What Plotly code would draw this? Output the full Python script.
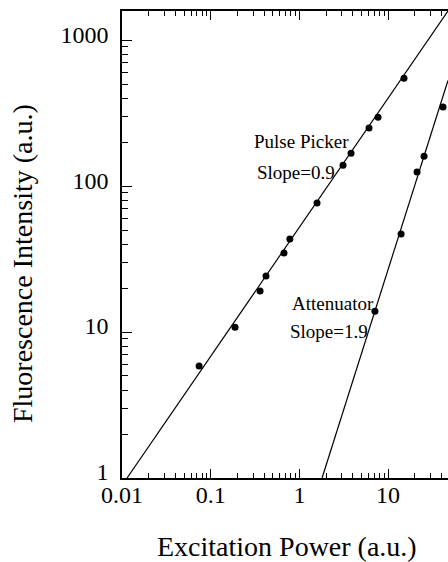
import plotly.graph_objects as go

# Pulse Picker data
pp_x = [0.074, 0.188, 0.36, 0.42, 0.67, 0.78, 1.58, 3.1, 3.82, 6.09, 7.7, 15.1]
pp_y = [5.85, 10.8, 19.1, 24.2, 34.8, 43.4, 76.5, 139, 168, 250, 297, 549]
# Attenuator data
at_x = [7.1, 14.0, 21.2, 25.4, 41.6]
at_y = [13.9, 46.9, 125, 160, 348]

# fitted lines (end points)
pp_fit_x = [0.0114, 47.3]
pp_fit_y = [1.0, 1585.0]
at_fit_x = [1.8, 47.3]
at_fit_y = [1.0, 530.0]

x_tickvals = [0.01, 0.1, 1, 10]
x_ticktext = ["0.01", "0.1", "1", "10"]
y_tickvals = [1, 10, 100, 1000]
y_ticktext = ["1", "10", "100", "1000"]

minor_x = [m * 10 ** e for e in range(-2, 2) for m in range(2, 10)]
minor_y = [m * 10 ** e for e in range(0, 4) for m in range(2, 10)]

FONT = "Liberation Serif"
W, H = 448, 562
ML, MR, MT, MB = 122, 0, 11, 84
PW, PH = W - ML - MR, H - MT - MB


def px(x):
    return (x - ML) / PW


def py(y):
    return (H - MB - y) / PH


fig = go.Figure()
fig.add_trace(go.Scatter(x=pp_fit_x, y=pp_fit_y, mode="lines",
                         line=dict(color="black", width=1.2), showlegend=False))
fig.add_trace(go.Scatter(x=at_fit_x, y=at_fit_y, mode="lines",
                         line=dict(color="black", width=1.2), showlegend=False))
fig.add_trace(go.Scatter(x=pp_x, y=pp_y, mode="markers",
                         marker=dict(color="black", size=7), showlegend=False))
fig.add_trace(go.Scatter(x=at_x, y=at_y, mode="markers",
                         marker=dict(color="black", size=7), showlegend=False))

ann_font = dict(family=FONT, size=19, color="black")
for text, x, y in [("Pulse Picker", 301, 141), ("Slope=0.9", 296, 172),
                   ("Attenuator", 333, 303), ("Slope=1.9", 329, 331)]:
    fig.add_annotation(x=px(x), y=py(y), xref="paper", yref="paper", text=text,
                       showarrow=False, xanchor="center", yanchor="middle", font=ann_font)

fig.add_annotation(x=px(22), y=py(264), xref="paper", yref="paper",
                   text="Fluorescence Intensity (a.u.)",
                   showarrow=False, textangle=-90, xanchor="center", yanchor="middle",
                   font=dict(family=FONT, size=28, color="black"))
fig.add_annotation(x=px(287), y=py(546), xref="paper", yref="paper",
                   text="Excitation Power (a.u.)",
                   showarrow=False, xanchor="center", yanchor="middle",
                   font=dict(family=FONT, size=28, color="black"))

fig.update_layout(
    width=W, height=H,
    margin=dict(l=ML, r=MR, t=MT, b=MB, autoexpand=False),
    plot_bgcolor="white", paper_bgcolor="white",
    font=dict(family=FONT, size=24, color="black"),
    xaxis=dict(type="log", range=[-2, 1.675], automargin=False,
               tickmode="array", tickvals=x_tickvals, ticktext=x_ticktext,
               ticks="inside", ticklen=9, tickwidth=1.2, tickcolor="black",
               ticklabelstandoff=-6,
               minor=dict(tickmode="array", tickvals=minor_x, ticks="inside", ticklen=5,
                          tickcolor="black", tickwidth=1),
               showline=True, linecolor="black", linewidth=1.5, mirror="ticks",
               showgrid=False, zeroline=False),
    yaxis=dict(type="log", range=[0, 3.2], automargin=False,
               tickmode="array", tickvals=y_tickvals, ticktext=y_ticktext,
               ticks="inside", ticklen=10, tickwidth=1.2, tickcolor="black",
               ticklabelstandoff=7, ticklabelshift=-6,
               minor=dict(tickmode="array", tickvals=minor_y, ticks="inside", ticklen=6,
                          tickcolor="black", tickwidth=1),
               showline=True, linecolor="black", linewidth=1.5, mirror=False,
               showgrid=False, zeroline=False),
)

fig.write_html("out.html", post_script="document.body.style.margin='0';",
               config={"displayModeBar": False})
